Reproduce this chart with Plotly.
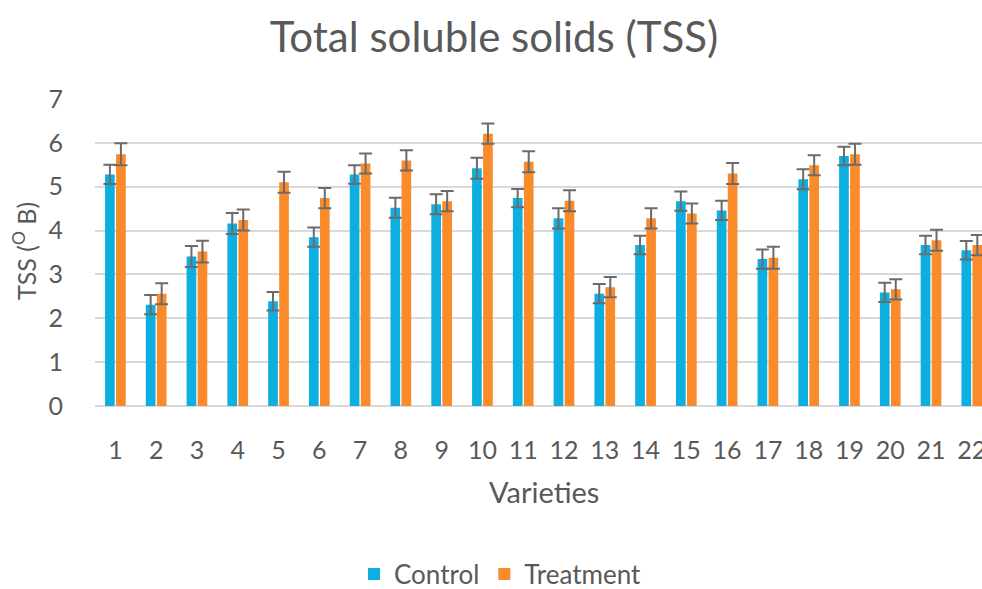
import plotly.graph_objects as go

varieties = [str(i) for i in range(1, 23)]
control = [5.28, 2.31, 3.41, 4.16, 2.39, 3.85, 5.28, 4.52, 4.60, 5.42, 4.74,
           4.28, 2.56, 3.67, 4.67, 4.46, 3.35, 5.17, 5.70, 2.59, 3.67, 3.55]
treatment = [5.74, 2.56, 3.52, 4.24, 5.10, 4.74, 5.53, 5.60, 4.67, 6.21, 5.57,
             4.68, 2.71, 4.28, 4.39, 5.30, 3.38, 5.49, 5.74, 2.66, 3.78, 3.67]
control_err = [0.22, 0.22, 0.24, 0.24, 0.21, 0.22, 0.21, 0.23, 0.23, 0.24, 0.21,
               0.23, 0.22, 0.21, 0.22, 0.22, 0.22, 0.23, 0.21, 0.22, 0.21, 0.21]
treatment_err = [0.25, 0.24, 0.25, 0.24, 0.24, 0.23, 0.23, 0.23, 0.23, 0.23, 0.24,
                 0.24, 0.23, 0.23, 0.23, 0.24, 0.25, 0.23, 0.24, 0.23, 0.24, 0.23]

xpos = list(range(len(varieties)))
font = "Lato, 'Open Sans', sans-serif"
grey = "#595959"
err_style = dict(type="data", visible=True, color="#6b6b6b", thickness=2, width=6.5)

fig = go.Figure()
fig.add_trace(go.Bar(x=xpos, y=control, name="Control", marker_color="#0cafdf",
                     marker_line_width=0,
                     error_y=dict(array=control_err, **err_style)))
fig.add_trace(go.Bar(x=xpos, y=treatment, name="Treatment", marker_color="#fa8a2a",
                     marker_line_width=0,
                     error_y=dict(array=treatment_err, **err_style)))

fig.update_layout(
    width=982, height=589,
    paper_bgcolor="white", plot_bgcolor="white",
    margin=dict(l=95, r=0, t=99, b=183, autoexpand=False),
    barmode="group", bargap=0.46, bargroupgap=0.12,
    font=dict(family=font, color=grey),
    title=dict(text="Total soluble solids (TSS)", x=0.503, xref="container",
               y=1 - 37 / 589, yref="container", xanchor="center", yanchor="middle",
               font=dict(size=42, color=grey)),
    showlegend=True,
    legend=dict(orientation="h", x=500 / 982, xref="container",
                y=1 - 574 / 589, yref="container",
                xanchor="center", yanchor="middle",
                font=dict(size=26, color=grey), itemwidth=30, traceorder="normal"),
    xaxis=dict(tickmode="array", tickvals=xpos, ticktext=varieties,
               range=[-0.5, 21.25], showgrid=False, zeroline=False, automargin=False,
               ticks="outside", ticklen=22, tickcolor="rgba(0,0,0,0)",
               ticklabeloverflow="allow",
               tickfont=dict(size=25, color=grey), showline=False),
    yaxis=dict(range=[0, 7], dtick=1, showgrid=True, gridcolor="#d9d9d9", gridwidth=1.5,
               zeroline=True, zerolinecolor="#d9d9d9", zerolinewidth=1.5, automargin=False,
               ticks="outside", ticklen=26, tickcolor="rgba(0,0,0,0)",
               tickfont=dict(size=25, color=grey), showline=False),
    annotations=[
        dict(text="Varieties", xref="paper", yref="paper", x=(544 - 95) / 887,
             y=(406 - 491) / 307,
             showarrow=False, xanchor="center", yanchor="middle",
             font=dict(size=29, color=grey)),
        dict(text="TSS (<sup>O</sup> B)", xref="paper", yref="paper",
             x=(24 - 95) / 887, y=(406 - 251) / 307, textangle=-90,
             showarrow=False, xanchor="center", yanchor="middle",
             font=dict(size=25, color=grey)),
    ],
)

post = ("document.documentElement.style.margin='0';"
        "document.body.style.margin='0';"
        "document.body.style.overflow='hidden';")

fig.write_html("out.html", config={"displayModeBar": False}, post_script=post)
